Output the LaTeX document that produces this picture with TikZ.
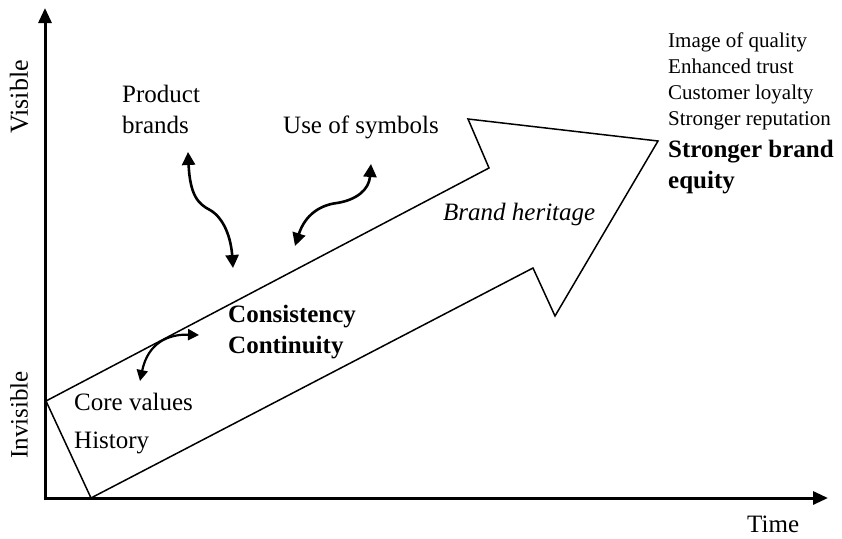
\documentclass[tikz,border=0pt]{standalone}
\usepackage{fontspec}
\setmainfont{Liberation Serif}
\usetikzlibrary{arrows.meta}
\begin{document}
\begin{tikzpicture}[x=1pt,y=-1pt,
  txt/.style={inner sep=0pt,anchor=base west,align=left,font=\fontsize{25}{31}\selectfont},
  listtxt/.style={inner sep=0pt,anchor=base west,align=left,font=\fontsize{21}{26}\selectfont},
  axis/.style={line width=3pt,-{Triangle[length=15pt,width=13pt]}},
  flow/.style={line width=2.6pt,{Triangle[length=13pt,width=13pt]}-{Triangle[length=13pt,width=13pt]}},
  smallflow/.style={line width=2.2pt,{Triangle[length=11pt,width=11pt]}-{Triangle[length=11pt,width=11pt]}},
  bigarrow/.style={line width=1.5pt,line join=miter}]
\useasboundingbox (0,0) rectangle (842,538);

% axes
\coordinate (origin) at (45,498);
\coordinate (ytop) at (45,8);
\coordinate (xend) at (828,498);
\draw[axis] (origin) -- (ytop);
\draw[axis] ([xshift=-1.5pt]origin) -- (xend);

% axis labels
\node[inner sep=0pt,rotate=90,font=\fontsize{26}{31}\selectfont] (visible) at (19,97) {Visible};
\node[inner sep=0pt,rotate=90,font=\fontsize{25}{31}\selectfont] (invisible) at (19,415) {Invisible};
\node[txt] (time) at (747,532) {Time};

% the rising arrow
\draw[bigarrow] (46,401) -- (489,168) -- (468,119) -- (658,141) -- (555,316) -- (533,268) -- (91,498) -- cycle;

% labels (multi-line nodes sit on the baseline of their last line)
\node[txt] (product) at (122,133) {Product\\brands};
\node[txt] (symbols) at (283,133) {Use of symbols};
\node[txt,font=\fontsize{25}{31}\selectfont\itshape] (heritage) at (443,220) {Brand heritage};
\node[txt,font=\fontsize{25}{31}\selectfont\bfseries] (consistency) at (228,353) {Consistency\\Continuity};
\node[txt,font=\fontsize{25}{38}\selectfont] (core) at (74,448) {Core values\\History};
\node[listtxt] (benefits) at (668,125) {Image of quality\\Enhanced trust\\Customer loyalty\\Stronger reputation};
\node[txt,font=\fontsize{25}{31}\selectfont\bfseries] (equity) at (668,188) {Stronger brand\\equity};

% exchange arrows
\coordinate (pb1) at (188,152);
\coordinate (pb2) at (233,268);
\draw[flow] (pb1) .. controls (190,195) and (198,204) .. (210,210) .. controls (224,218) and (231,238) .. (pb2);
\coordinate (us1) at (295,246);
\coordinate (us2) at (371,164);
\draw[flow] (us1) .. controls (305,215) and (320,205) .. (337,203) .. controls (356,200) and (369,190) .. (us2);
\coordinate (cc1) at (199,335);
\coordinate (cc2) at (140,381);
\draw[smallflow] (cc1) .. controls (168,334) and (148,343) .. (cc2);
\end{tikzpicture}
\end{document}
